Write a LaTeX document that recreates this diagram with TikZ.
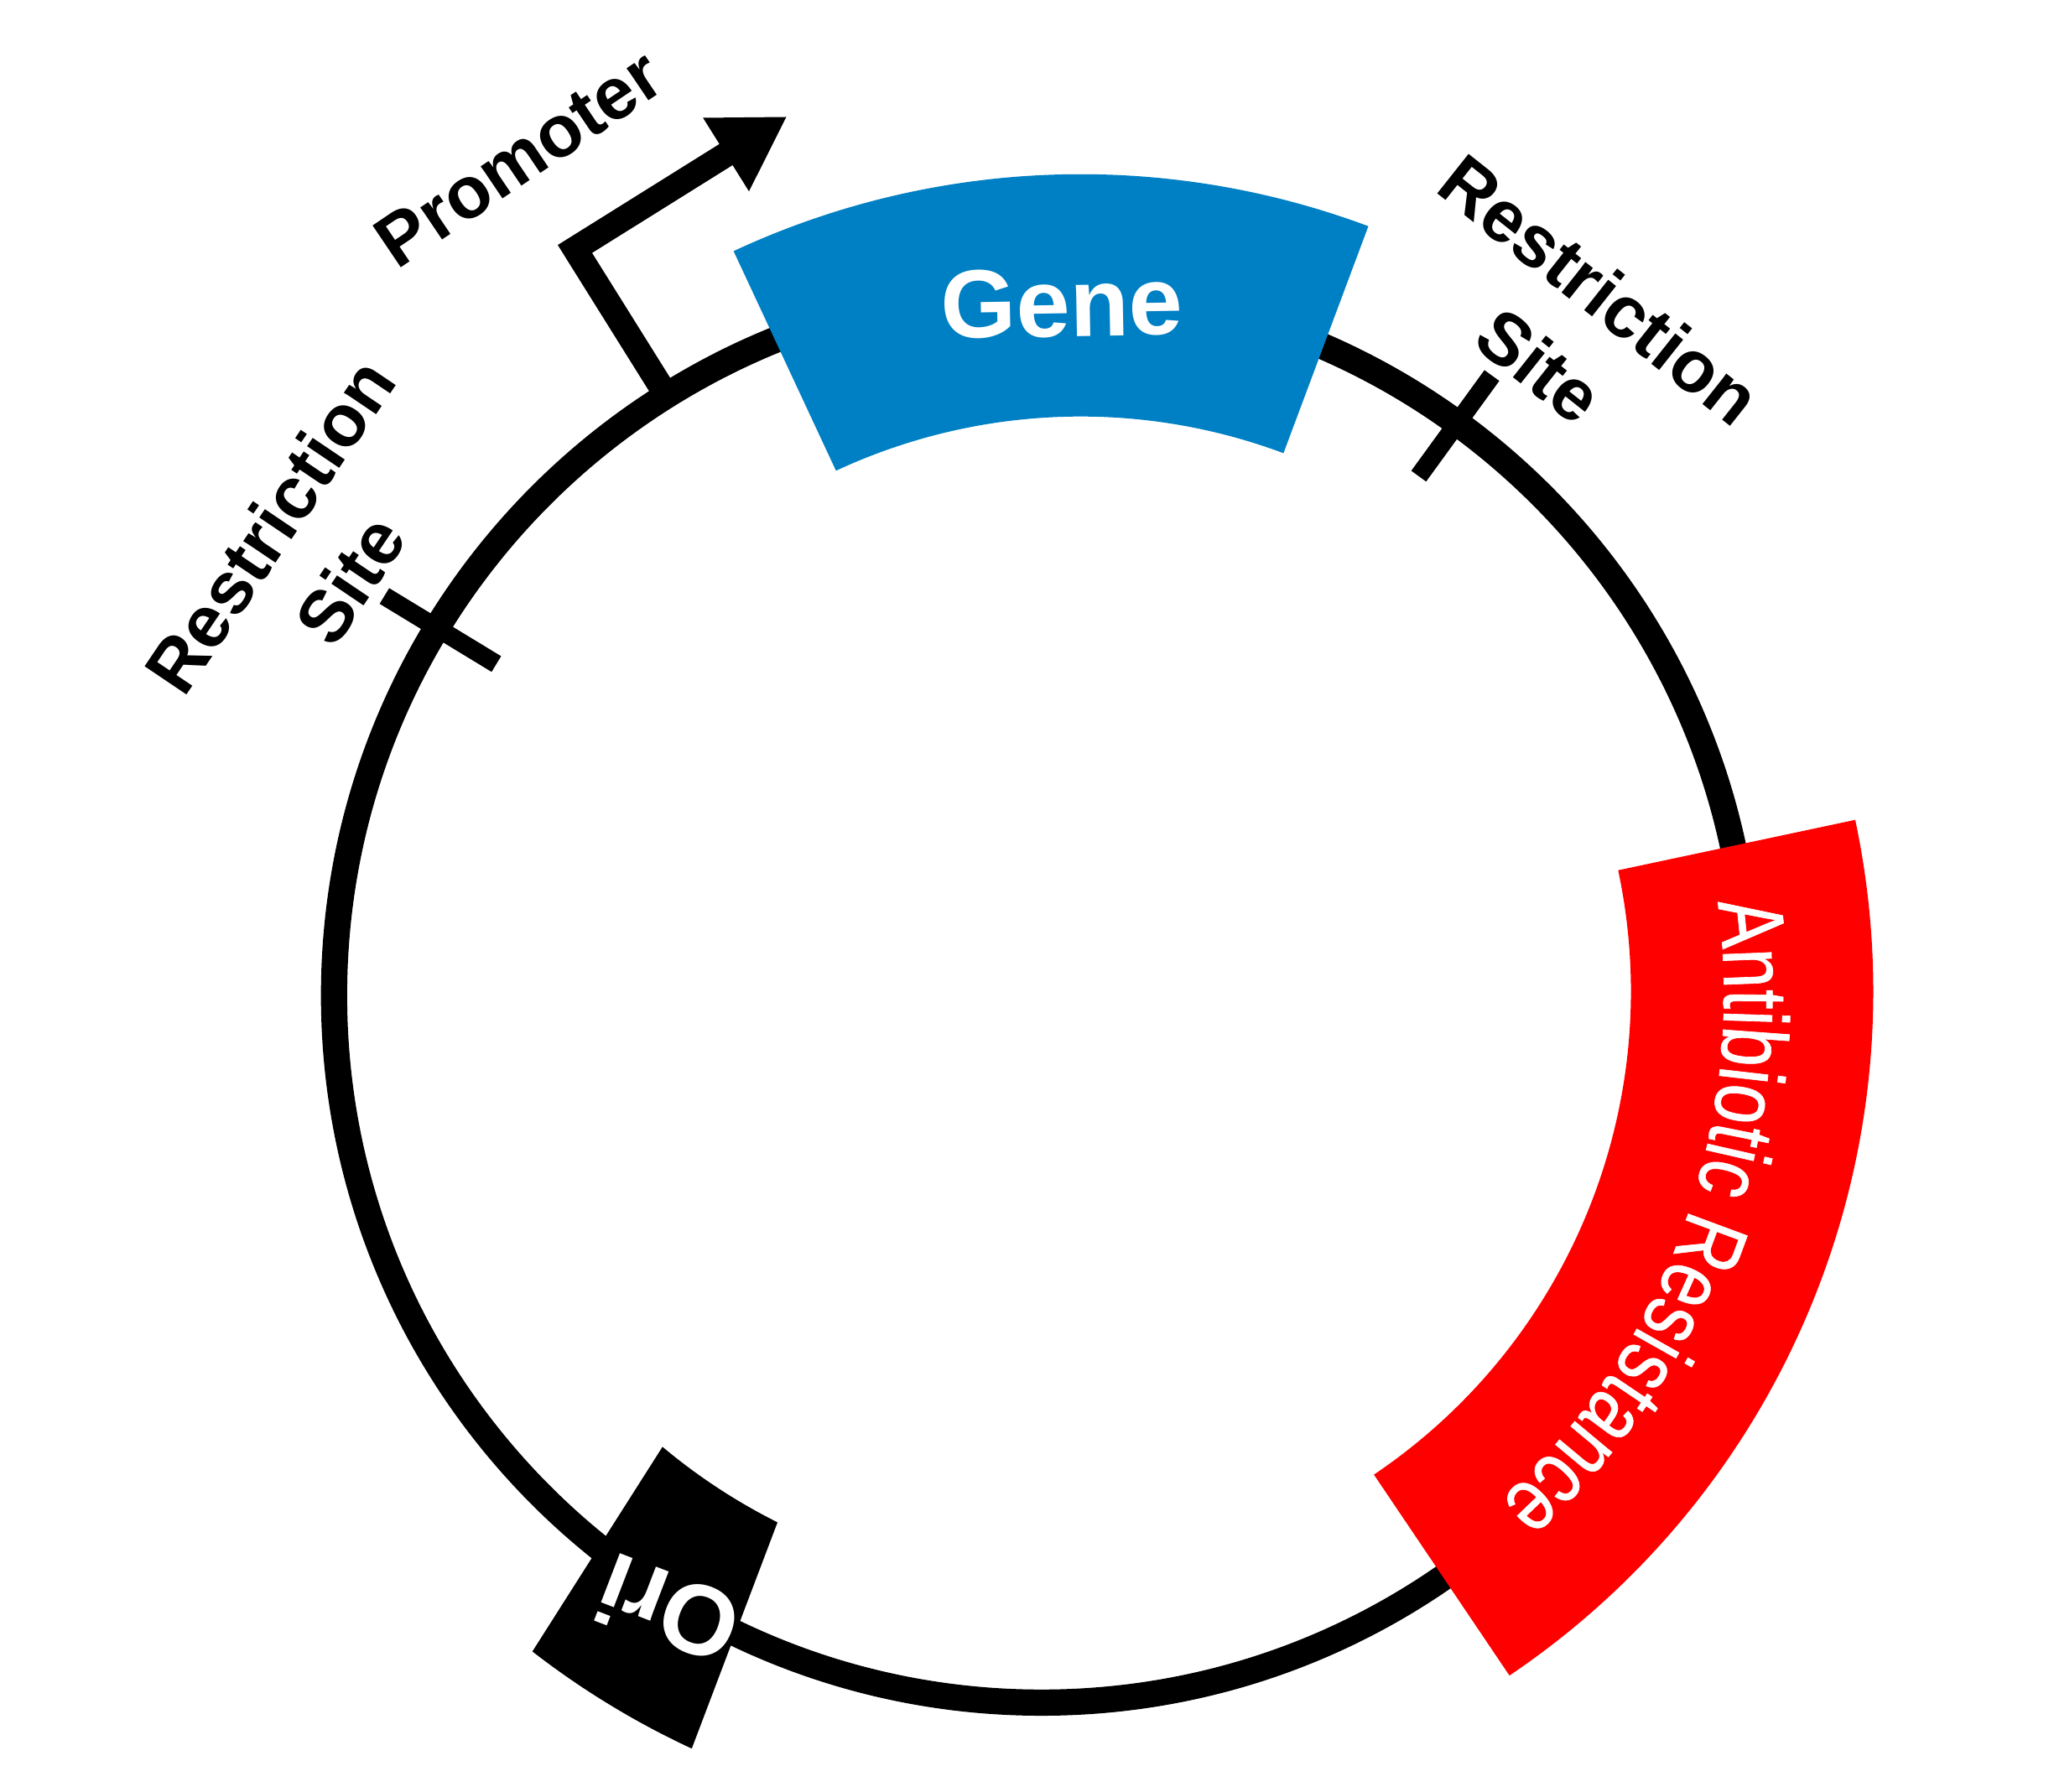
\documentclass[tikz,border=0pt]{standalone}
\usepackage{fontspec}
\setmainfont{Liberation Sans}
\newfontfamily\condfont[FakeStretch=0.78,FakeBold=0.6]{Liberation Sans}
\usetikzlibrary{calc,decorations.text,arrows.meta}
\definecolor{genecol}{RGB}{0,128,196}
\definecolor{rescol}{RGB}{255,0,0}
\begin{document}
\begin{tikzpicture}[x=1pt,y=1pt,
  ringline/.style={line width=20pt},
  rsite/.style={line width=14pt},
  lbl/.style={font=\bfseries\fontsize{56}{74}\selectfont, align=center, inner sep=0pt, text=black},
  wlbl/.style={font=\bfseries\fontsize{74}{80}\selectfont, inner sep=0pt, text=white}]
\useasboundingbox (0,0) rectangle (1568,1368);
\coordinate (c) at (795,608);
\coordinate (gc) at (825,608);
\coordinate (rc) at (800,611);
% backbone ring
\draw[ringline] (c) circle[radius=540];
% restriction sites
\coordinate (rsL1) at ($(c)+(148.7:487)$);
\coordinate (rsL2) at ($(c)+(148.7:587)$);
\coordinate (rsR1) at ($(c)+(54:490)$);
\coordinate (rsR2) at ($(c)+(54:585)$);
\draw[rsite] (rsL1) -- (rsL2);
\draw[rsite] (rsR1) -- (rsR2);
% promoter
\coordinate (pA) at ($(c)+(122:540)$);
\coordinate (pB) at ($(c)+(122:672)$);
\coordinate (pC) at ($(pB)+(32:191)$);
\draw[line width=19pt,-{Triangle[length=55pt,width=62pt]}] (pA) -- (pB) -- (pC);
% gene
\fill[genecol] ($(gc)+(115:627)$) arc[start angle=115,end angle=69.5,radius=627]
  -- ($(gc)+(69.5:442)$) arc[start angle=69.5,end angle=115,radius=442] -- cycle;
\node[wlbl, anchor=base, rotate=1] (gene) at (811,1111) {Gene};
% antibiotic resistance
\fill[rescol] ($(rc)+(12:630)$) arc[start angle=12,end angle=-56,radius=630]
  -- ($(rc)+(-56:445)$) arc[start angle=-56,end angle=12,radius=445] -- cycle;
\path[decorate, decoration={text along path, text align=center,
  text={|\condfont\fontsize{70}{70}\selectfont\color{white}|Antibiotic Resistance}}]
  ($(c)+(16:521)$) arc[start angle=16,end angle=-56,radius=521];
% ori
\fill[black] ($(c)+(-130:450)$) arc[start angle=-130,end angle=-116.6,radius=450]
  -- ($(c)+(-114.9:634)$) arc[start angle=-114.9,end angle=-127.8,radius=634] -- cycle;
\node[wlbl, font=\bfseries\fontsize{76}{80}\selectfont, rotate=159] (ori) at (510,139) {Ori};
% labels
\node[lbl, rotate=34] (prom) at (396,1247) {Promoter};
\node[lbl, rotate=-38.4] (rsRlab) at (1198.5,1118) {Restriction\\Site};
\node[lbl, rotate=56] (rsLlab) at (236.5,946) {Restriction\\Site};
\end{tikzpicture}
\end{document}
